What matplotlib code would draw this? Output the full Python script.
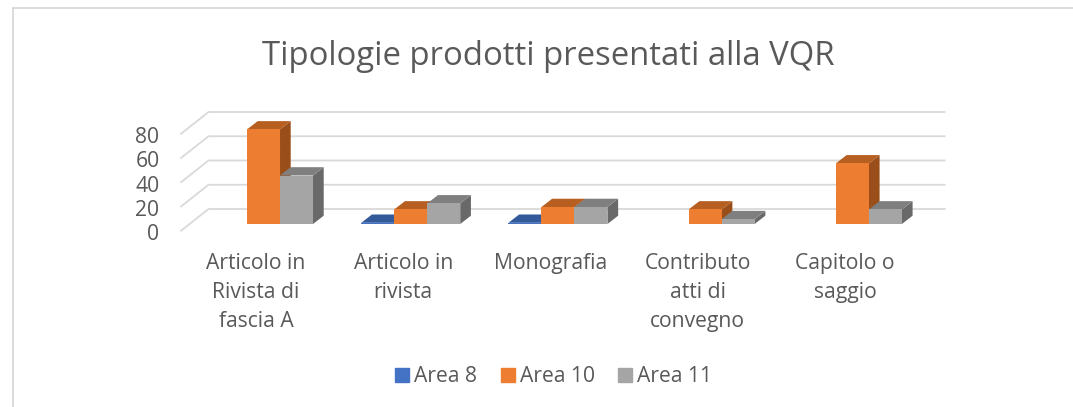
import matplotlib
matplotlib.use("Agg")
import matplotlib.pyplot as plt
from matplotlib.lines import Line2D
from matplotlib.patches import Patch

categories = ["Articolo in\nRivista di\nfascia A", "Articolo in\nrivista", "Monografia",
              "Contributo\natti di\nconvegno", "Capitolo o\nsaggio"]
series_names = ["Area 8", "Area 10", "Area 11"]
area8 = [0, 1, 1, 0, 0]
area10 = [78, 12, 14, 12, 50]
area11 = [40, 17, 14, 4, 12]
yticks = [0, 20, 40, 60, 80]

W, H = 1073, 407
FONT = "Open Sans"
TXT = "#595959"
front = ["#4472C4", "#ED7D31", "#A5A5A5"]
top = ["#335A9A", "#B65F20", "#7F7F7F"]
side = ["#2A4A80", "#9A4F1A", "#696969"]

fig = plt.figure(figsize=(W / 100, H / 100), dpi=100, facecolor="white")
fig.add_artist(Line2D([13 / W, 13 / W], [0, 1 - 7.5 / H], color="#D9D9D9", lw=1.3))
fig.add_artist(Line2D([13 / W, 1], [1 - 7.5 / H, 1 - 7.5 / H], color="#D9D9D9", lw=1.3))

ax_l, ax_r, ax_b, ax_t = 189.9, 926.0, 224.0, 127.0
ax = fig.add_axes([ax_l / W, 1 - ax_b / H, (ax_r - ax_l) / W, (ax_b - ax_t) / H])
ax.set_xlim(-0.5, 4.5)
ax.set_ylim(0, 80)
ax.axis("off")

px_x = (ax_r - ax_l) / 5
px_y = (ax_b - ax_t) / 80

# depth of the wall and of the bars, in data units
wall_dx, wall_dy = 18.6 / px_x, 15.0 / px_y
fore_dx, fore_dy = 8.8 / px_x, 6.7 / px_y
bar_dx, bar_dy = 10.7 / px_x, 8.3 / px_y
bw = 33.0 / px_x

for t in yticks:
    ax.plot([-0.5 - fore_dx, -0.5 + wall_dx, 4.5 + wall_dx],
            [t - fore_dy, t + wall_dy, t + wall_dy],
            color="#D9D9D9", lw=1.3, clip_on=False, zorder=1, solid_joinstyle="miter")
    ax.text(-0.5 - fore_dx - 21.5 / px_x, t - fore_dy - 4 / px_y, str(t), ha="right", va="center",
            fontsize=15.2, color=TXT, family=FONT)

for s, vals in enumerate([area8, area10, area11]):
    for i, v in enumerate(vals):
        if v <= 0:
            continue
        x0 = i + (s - 1) * bw - bw / 2
        x1 = x0 + bw
        z = 2 + s + i * 3
        ax.bar(x0, v, bw, align="edge", color=front[s], zorder=z + 0.2, clip_on=False)
        ax.fill([x0, x1, x1 + bar_dx, x0 + bar_dx], [v, v, v + bar_dy, v + bar_dy],
                color=top[s], lw=0, zorder=z + 0.1, clip_on=False)
        ax.fill([x1, x1 + bar_dx, x1 + bar_dx, x1], [0, bar_dy, v + bar_dy, v],
                color=side[s], lw=0, zorder=z, clip_on=False)

for i, c in enumerate(categories):
    ax.text(i - 7.5 / px_x, -24, c, ha="center", va="top", fontsize=15.2, color=TXT, family=FONT,
            linespacing=1.487, clip_on=False)

fig.text(548 / W, 1 - 56.5 / H, "Tipologie prodotti presentati alla VQR", ha="center", va="center",
         fontsize=23.65, color=TXT, family=FONT)

handles = [Patch(color=c) for c in front]
leg = fig.legend(handles, series_names, loc="center", bbox_to_anchor=(553.75 / W, 1 - 377 / H), ncol=3,
                 frameon=False, fontsize=15.2, labelcolor=TXT, handlelength=0.66, handleheight=0.66,
                 handletextpad=0.23, columnspacing=1.12)
for txt in leg.get_texts():
    txt.set_family(FONT)

fig.savefig("out.png", dpi=100)
